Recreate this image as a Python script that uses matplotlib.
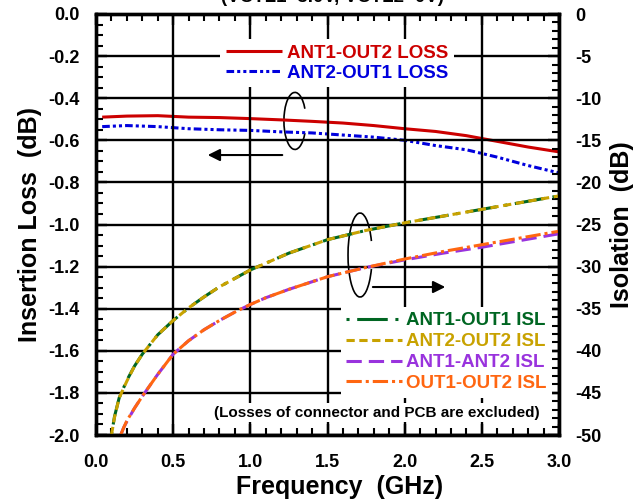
import matplotlib
matplotlib.use("Agg")
import matplotlib.pyplot as plt
from matplotlib.patches import Arc
from matplotlib.ticker import MultipleLocator, FormatStrFormatter

plt.rcParams['font.family'] = ['Liberation Sans', 'DejaVu Sans']
plt.rcParams['font.weight'] = 'bold'

# ---- data ----
freq_loss = [0.04, 0.2, 0.4, 0.6, 0.8, 1.0, 1.2, 1.4, 1.6, 1.8, 2.0, 2.2, 2.4, 2.6, 2.8, 3.0]
ant1_out2_loss = [-0.490, -0.485, -0.483, -0.490, -0.492, -0.497, -0.503, -0.510, -0.518,
                  -0.530, -0.545, -0.558, -0.578, -0.605, -0.632, -0.655]
ant2_out1_loss = [-0.535, -0.530, -0.535, -0.545, -0.550, -0.553, -0.560, -0.565, -0.575,
                  -0.585, -0.600, -0.625, -0.645, -0.680, -0.720, -0.755]

freq_isl_a = [0.10, 0.12, 0.15, 0.2, 0.25, 0.3, 0.4, 0.5, 0.6, 0.7, 0.8, 0.9, 1.0, 1.1, 1.25,
              1.5, 1.75, 2.0, 2.25, 2.5, 2.75, 3.0]
ant1_out1_isl = [-50.0, -47.8, -45.6, -43.5, -41.8, -40.4, -38.1, -36.4, -34.9, -33.6, -32.4,
                 -31.4, -30.4, -29.6, -28.4, -26.8, -25.7, -24.8, -24.0, -23.2, -22.4, -21.6]
ant2_out2_isl = [-50.0, -47.9, -45.6, -43.6, -41.8, -40.4, -38.1, -36.4, -34.9, -33.6, -32.4,
                 -31.4, -30.4, -29.6, -28.4, -26.8, -25.7, -24.8, -24.0, -23.2, -22.4, -21.6]

freq_isl_b = [0.16, 0.18, 0.2, 0.25, 0.3, 0.4, 0.5, 0.6, 0.7, 0.8, 0.9, 1.0, 1.1, 1.25, 1.5,
              1.75, 2.0, 2.25, 2.5, 2.75, 3.0]
ant1_ant2_isl = [-50.0, -49.1, -48.4, -46.8, -45.4, -42.8, -40.4, -38.8, -37.5, -36.4, -35.4,
                 -34.5, -33.7, -32.7, -31.2, -30.1, -29.2, -28.4, -27.7, -26.9, -26.1]
out1_out2_isl = [-50.0, -49.1, -48.3, -46.8, -45.4, -42.8, -40.4, -38.8, -37.5, -36.4, -35.4,
                 -34.5, -33.7, -32.7, -31.2, -30.1, -29.1, -28.2, -27.4, -26.6, -25.8]

loss_labels = ['ANT1-OUT2 LOSS', 'ANT2-OUT1 LOSS']
isl_labels = ['ANT1-OUT1 ISL', 'ANT2-OUT2 ISL', 'ANT1-ANT2 ISL', 'OUT1-OUT2 ISL']

c_red, c_blue = '#CC0000', '#0000DD'
c_green, c_gold, c_purple, c_orange = '#006622', '#C8A200', '#9933DD', '#FF6611'

fig = plt.figure(figsize=(6.4, 5.01), dpi=100)
ax = fig.add_axes([96/640, 1-435/501, (559-96)/640, (435-14)/501])
ax2 = ax.twinx()

lw = 2.2
l1, = ax.plot(freq_loss, ant1_out2_loss, color=c_red, lw=lw, solid_capstyle='butt')
l2, = ax.plot(freq_loss, ant2_out1_loss, color=c_blue, lw=lw,
              linestyle=(0, (2.5, 1, 1, 1, 1, 1)))

i1, = ax2.plot(freq_isl_a, ant1_out1_isl, color=c_green, lw=lw, linestyle=(0, (1, 2.5, 10, 2.5)))
i2, = ax2.plot(freq_isl_a, ant2_out2_isl, color=c_gold, lw=lw, linestyle=(0, (2.7, 1.5)))
i3, = ax2.plot(freq_isl_b, ant1_ant2_isl, color=c_purple, lw=lw, linestyle=(0, (5, 2.3)))
i4, = ax2.plot(freq_isl_b, out1_out2_isl, color=c_orange, lw=lw, linestyle=(0, (5, 1.3, 1, 1.3)))

ax.set_xlim(0, 3.0)
ax.set_ylim(-2.0, 0.0)
ax2.set_ylim(-50, 0)

ax.xaxis.set_major_locator(MultipleLocator(0.5))
ax.xaxis.set_minor_locator(MultipleLocator(0.1))
ax.yaxis.set_major_locator(MultipleLocator(0.2))
ax.yaxis.set_minor_locator(MultipleLocator(0.05))
ax2.yaxis.set_major_locator(MultipleLocator(5))
ax2.yaxis.set_minor_locator(MultipleLocator(1))
ax.xaxis.set_major_formatter(FormatStrFormatter('%.1f'))
ax.yaxis.set_major_formatter(FormatStrFormatter('%.1f'))
ax2.yaxis.set_major_formatter(FormatStrFormatter('%d'))

ax.grid(True, which='major', color='black', lw=1.7)
ax.set_axisbelow(False)

fs_tick = 13
ax.tick_params(axis='x', which='both', direction='in', top=True, bottom=True, labelsize=fs_tick, pad=14)
ax.tick_params(axis='y', which='both', direction='in', left=True, right=False, labelsize=fs_tick, pad=12)
ax.tick_params(which='major', length=8, width=1.7)
ax.tick_params(which='minor', length=5, width=1.5)
ax2.tick_params(axis='y', which='both', direction='in', labelsize=fs_tick, pad=12)
ax2.tick_params(which='major', length=8, width=1.7)
ax2.tick_params(which='minor', length=5, width=1.5)
for a in (ax, ax2):
    for lab in a.get_xticklabels() + a.get_yticklabels():
        lab.set_fontweight('bold')
    for s in a.spines.values():
        s.set_linewidth(2.4)

ax.set_xlabel('Frequency  (GHz)', fontsize=18, fontweight='bold')
ax.xaxis.set_label_coords(0.527, -0.094)
ax.set_ylabel('Insertion Loss  (dB)', fontsize=18, fontweight='bold', labelpad=4)
ax2.set_ylabel('Isolation  (dB)', fontsize=18, fontweight='bold', labelpad=6)

# partially visible title at the top (cut by the figure edge, as in the original)
fig.text(332/640, 1-2.5/501, '(VCTL1=3.0V, VCTL2=0V)', fontsize=13.5, fontweight='bold',
         ha='center', va='baseline')

# legends
leg1 = ax2.legend([l1, l2], loss_labels, loc='center', bbox_to_anchor=(0.5205, 0.8836),
                  fontsize=13.5, handlelength=3.0, handletextpad=0.25, labelspacing=0.15,
                  borderpad=0.3, frameon=True, fancybox=False, framealpha=1,
                  facecolor='white', edgecolor='none', labelcolor='linecolor')
leg1.set_zorder(20)
ax2.add_artist(leg1)
leg2 = ax2.legend([i1, i2, i3, i4], isl_labels, loc='center', bbox_to_anchor=(0.757, 0.197),
                  fontsize=13.5, handlelength=3.0, handletextpad=0.2, labelspacing=0.2,
                  borderpad=0.3, frameon=True, fancybox=False, framealpha=1,
                  facecolor='white', edgecolor='none', labelcolor='linecolor')
leg2.set_zorder(20)
for t in leg1.get_texts() + leg2.get_texts():
    t.set_fontweight('bold')

ax2.text(0.606, 0.053, '(Losses of connector and PCB are excluded)', transform=ax2.transAxes,
         fontsize=11, fontweight='bold', ha='center', va='center', zorder=21,
         bbox=dict(facecolor='white', edgecolor='none', pad=2))

# rotation ellipses and arrows
ax.add_patch(Arc((1.289, -0.508), 0.1425, 0.271, theta1=42, theta2=318, color='black', lw=1.2))
ax.annotate('', xy=(0.706, -0.670), xytext=(1.225, -0.670),
            arrowprops=dict(arrowstyle='-|>', color='black', lw=1.5, mutation_scale=18))
ax.add_patch(Arc((1.711, -1.145), 0.156, 0.399, theta1=42, theta2=318, color='black', lw=1.2))
ax.annotate('', xy=(2.281, -1.297), xytext=(1.776, -1.297),
            arrowprops=dict(arrowstyle='-|>', color='black', lw=1.5, mutation_scale=18))

fig.savefig('out.png', dpi=100)
